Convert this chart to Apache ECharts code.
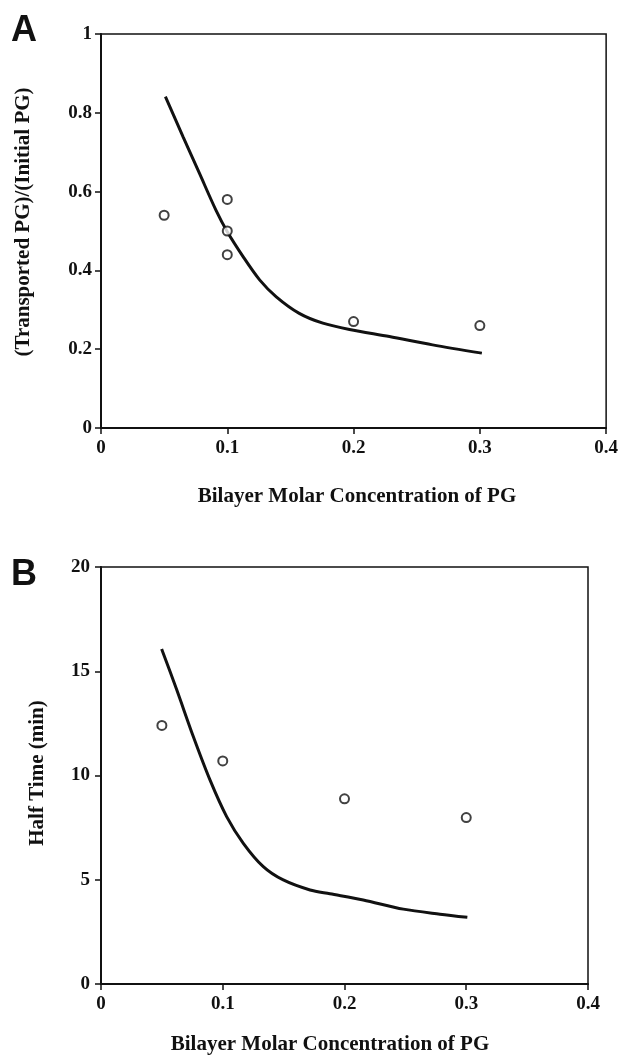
<!DOCTYPE html>
<html>
<head>
<meta charset="utf-8">
<style>
  html, body { margin: 0; padding: 0; background: #fff; }
  #chart { width: 621px; height: 1057px; }
</style>
<script src="https://cdn.jsdelivr.net/npm/echarts@6/dist/echarts.min.js"></script>
</head>
<body>
<div id="chart"></div>
<script>
// Panel A: fraction of PG transported vs bilayer PG concentration
const pointsA = [[0.05, 0.54], [0.1, 0.58], [0.1, 0.50], [0.1, 0.44], [0.2, 0.27], [0.3, 0.26]];
const curveA = [
  [0.051, 0.841], [0.065, 0.739], [0.078, 0.646], [0.091, 0.553], [0.1, 0.498],
  [0.1125, 0.435], [0.1256, 0.376], [0.1388, 0.333], [0.157, 0.291], [0.1757, 0.266],
  [0.1968, 0.250], [0.2284, 0.232], [0.2626, 0.211], [0.3016, 0.190]
];

// Panel B: half time of transport vs bilayer PG concentration
const pointsB = [[0.05, 12.4], [0.1, 10.7], [0.2, 8.88], [0.3, 7.98]];
const curveB = [
  [0.0498, 16.07], [0.0622, 14.11], [0.0758, 11.87], [0.0895, 9.79], [0.1032, 8.03],
  [0.1169, 6.75], [0.1333, 5.63], [0.1497, 4.99], [0.1717, 4.51], [0.1880, 4.33],
  [0.2154, 4.03], [0.2483, 3.59], [0.2784, 3.35], [0.3009, 3.20]
];

const xTitle = 'Bilayer Molar Concentration of PG';
const yTitleA = '(Transported PG)/(Initial PG)';
const yTitleB = 'Half Time (min)';

const INK = '#111';
const serif = '"Liberation Serif", "Times New Roman", serif';
const tickFont = { color: INK, fontFamily: serif, fontWeight: 'bold', fontSize: 19 };

function xAxisFor(gridIndex) {
  return {
    type: 'value', gridIndex, min: 0, max: 0.4, interval: 0.1,
    axisLine: { show: true, onZero: false, lineStyle: { color: INK, width: 2 } },
    axisTick: { show: true, length: 6, inside: false, lineStyle: { color: INK, width: 1.5 } },
    axisLabel: Object.assign({ margin: 11, showMaxLabel: true, showMinLabel: true }, tickFont),
    splitLine: { show: false }
  };
}
function yAxisFor(gridIndex, max, interval, margin) {
  return {
    type: 'value', gridIndex, min: 0, max, interval,
    axisLine: { show: true, onZero: false, lineStyle: { color: INK, width: 2 } },
    axisTick: { show: true, length: 6, inside: false, lineStyle: { color: INK, width: 1.5 } },
    axisLabel: Object.assign({ margin, showMaxLabel: true, showMinLabel: true }, tickFont),
    splitLine: { show: false }
  };
}

const circleStyle = { color: '#fff', borderColor: INK, borderWidth: 2 };
const curveStyle = { color: INK, width: 3 };

const chart = echarts.init(document.getElementById('chart'), null, { renderer: 'canvas' });
chart.setOption({
  animation: false,
  backgroundColor: '#fff',
  grid: [
    { left: 101, top: 34, width: 506, height: 394, show: true, borderColor: INK, borderWidth: 1.5, backgroundColor: 'transparent' },
    { left: 101, top: 567, width: 487, height: 417, show: true, borderColor: INK, borderWidth: 1.5, backgroundColor: 'transparent' }
  ],
  xAxis: [xAxisFor(0), xAxisFor(1)],
  yAxis: [yAxisFor(0, 1, 0.2, 9), yAxisFor(1, 20, 5, 11)],
  series: [
    { type: 'line', xAxisIndex: 0, yAxisIndex: 0, data: curveA, smooth: 0.3, showSymbol: false, lineStyle: curveStyle, z: 2 },
    { type: 'scatter', xAxisIndex: 0, yAxisIndex: 0, data: pointsA, symbol: 'circle', symbolSize: 9, itemStyle: circleStyle, z: 3 },
    { type: 'line', xAxisIndex: 1, yAxisIndex: 1, data: curveB, smooth: 0.3, showSymbol: false, lineStyle: curveStyle, z: 2 },
    { type: 'scatter', xAxisIndex: 1, yAxisIndex: 1, data: pointsB, symbol: 'circle', symbolSize: 9, itemStyle: circleStyle, z: 3 }
  ],
  graphic: [
    { type: 'text', left: 11, top: 13, style: { text: 'A', fill: INK, font: 'bold 36px "Liberation Sans", Arial, sans-serif' } },
    { type: 'text', left: 11, top: 557, style: { text: 'B', fill: INK, font: 'bold 36px "Liberation Sans", Arial, sans-serif' } },
    { type: 'text', x: 24, y: 222, rotation: Math.PI / 2,
      style: { text: yTitleA, fill: INK, font: 'bold 21px ' + serif, align: 'center', verticalAlign: 'middle' } },
    { type: 'text', x: 357, y: 497,
      style: { text: xTitle, fill: INK, font: 'bold 21px ' + serif, align: 'center', verticalAlign: 'middle' } },
    { type: 'text', x: 38, y: 773, rotation: Math.PI / 2,
      style: { text: yTitleB, fill: INK, font: 'bold 21px ' + serif, align: 'center', verticalAlign: 'middle' } },
    { type: 'text', x: 330, y: 1045,
      style: { text: xTitle, fill: INK, font: 'bold 21px ' + serif, align: 'center', verticalAlign: 'middle' } }
  ]
});
</script>
</body>
</html>
